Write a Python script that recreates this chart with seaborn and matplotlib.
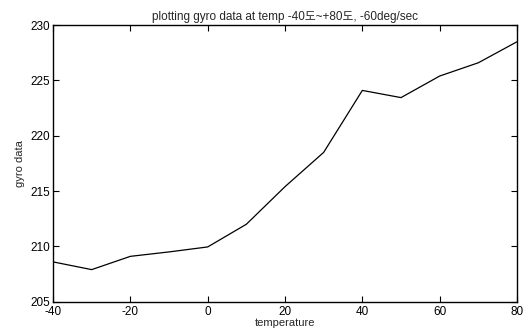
import numpy as np
import pandas as pd
import matplotlib
matplotlib.use("Agg")
import matplotlib.pyplot as plt
import seaborn as sns

# readings
temperature = [-40, -30, -20, -10, 0, 10, 20, 30, 40, 50, 60, 70, 80]
gyro = [208.6, 207.9, 209.1, 209.5, 209.95, 212.0, 215.4, 218.5, 224.1, 223.45, 225.4, 226.6, 228.5]

x_ticks = [-40, -20, 0, 20, 40, 60, 80]
y_ticks = [205, 210, 215, 220, 225, 230]

sns.set_theme(style="white")
plt.rcParams['font.family'] = ['Liberation Sans', 'Noto Sans CJK KR', 'DejaVu Sans']
plt.rcParams['axes.unicode_minus'] = False

df = pd.DataFrame({"temperature": temperature, "gyro data": gyro})

fig = plt.figure(figsize=(5.3, 3.34), dpi=100)
ax = fig.add_axes([0.1, 0.0967, 0.8755, 0.828])
sns.lineplot(data=df, x="temperature", y="gyro data", color="black", linewidth=0.9, ax=ax)

ax.set_xlim(-40, 80)
ax.set_ylim(205, 230)
ax.set_xticks(x_ticks)
ax.set_yticks(y_ticks)
ax.tick_params(direction="in", length=4, width=0.8, labelsize=8.5, pad=2,
               top=True, right=True, bottom=True, left=True, colors="black")
ax.tick_params(axis="x", pad=3)
for s in ax.spines.values():
    s.set_color("black")
    s.set_linewidth(1.0)

ax.set_xlabel("temperature", fontsize=8, labelpad=0)
ax.set_ylabel("gyro data", fontsize=8, labelpad=4)
ax.set_title("plotting gyro data at temp -40도~+80도, -60deg/sec", fontsize=8.5, pad=4)

fig.savefig("out.png", dpi=100)
